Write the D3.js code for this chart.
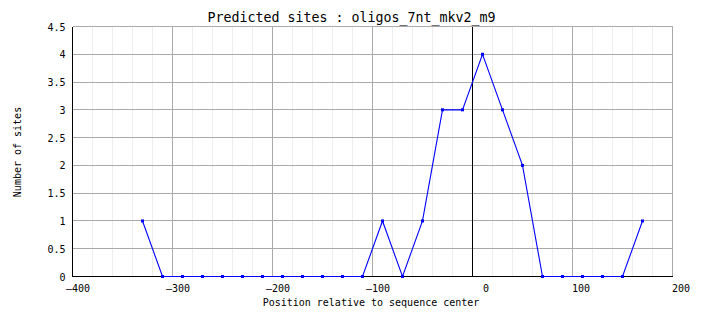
<!DOCTYPE html>
<html>
<head>
<meta charset="utf-8">
<script src="https://cdn.jsdelivr.net/npm/d3@7"></script>
<style>
  body { margin: 0; background: #fff; }
  text { font-family: "DejaVu Sans Mono", monospace; fill: #000; }
  .tick-label { font-size: 10px; }
  .axis-title { font-size: 10px; }
  .title { font-size: 13.3px; }
</style>
</head>
<body>
<div class="chart"></div>
<script>
// positions (relative to sequence center) and site counts
const positions = [-330, -310, -290, -270, -250, -230, -210, -190, -170, -150, -130, -110, -90,
                   -70, -50, -30, -10, 10, 30, 50, 70, 90, 110, 130, 150, 170]
const sites = [1, 0, 0, 0, 0, 0, 0, 0, 0, 0, 0, 0, 1,
               0, 1, 3, 3, 4, 3, 2, 0, 0, 0, 0, 0, 1]
const xTicks = [-400, -300, -200, -100, 0, 100, 200]
const yTicks = [0, 0.5, 1, 1.5, 2, 2.5, 3, 3.5, 4, 4.5]
const title = "Predicted sites : oligos_7nt_mkv2_m9"
const xLabel = "Position relative to sequence center"
const yLabel = "Number of sites"

const width = 704
const height = 328
const margin = {left: 72, right: 32, top: 26, bottom: 52}

const svg = d3.select('.chart').append('svg')
    .attr('width', width)
    .attr('height', height)

const x = d3.scaleLinear()
    .domain([-400, 200])
    .range([margin.left + 0.5, width - margin.right + 0.5])

const y = d3.scaleLinear()
    .domain([0, 4.5])
    .range([height - margin.bottom + 0.5, margin.top + 0.5])

// minor vertical grid every 20
const minor = d3.range(-400, 201, 20).filter(d => d % 100 != 0)
svg.append('g').selectAll('line')
    .data(minor)
    .enter().append('line')
    .attr('x1', d => x(d)).attr('x2', d => x(d))
    .attr('y1', y(0)).attr('y2', y(4.5))
    .attr('stroke', '#eeeeee')
    .attr('shape-rendering', 'crispEdges')

// major grid
svg.append('g').selectAll('line')
    .data(yTicks)
    .enter().append('line')
    .attr('x1', x(-400)).attr('x2', x(200))
    .attr('y1', d => y(d)).attr('y2', d => y(d))
    .attr('stroke', '#aaaaaa')
    .attr('shape-rendering', 'crispEdges')

svg.append('g').selectAll('line')
    .data(xTicks)
    .enter().append('line')
    .attr('x1', d => x(d)).attr('x2', d => x(d))
    .attr('y1', y(0)).attr('y2', y(4.5))
    .attr('stroke', d => d == 0 ? '#000' : '#aaaaaa')
    .attr('shape-rendering', 'crispEdges')

// axes lines
svg.append('line')
    .attr('x1', x(-400)).attr('x2', x(-400))
    .attr('y1', y(0)).attr('y2', y(4.5))
    .attr('stroke', '#000')
    .attr('shape-rendering', 'crispEdges')
svg.append('line')
    .attr('x1', x(-400)).attr('x2', x(200))
    .attr('y1', y(0)).attr('y2', y(0))
    .attr('stroke', '#000')
    .attr('shape-rendering', 'crispEdges')

// tick labels
svg.append('g').selectAll('text')
    .data(yTicks)
    .enter().append('text')
    .attr('class', 'tick-label')
    .attr('x', x(-400) - 7)
    .attr('y', d => y(d) + 4)
    .attr('text-anchor', 'end')
    .text(d => d)

svg.append('g').selectAll('text')
    .data(xTicks)
    .enter().append('text')
    .attr('class', 'tick-label')
    .attr('x', d => x(d))
    .attr('dx', d => d < 0 ? -6.5 : (d == 0 ? 10.5 : -0.5))
    .attr('y', y(0) + 15)
    .attr('text-anchor', 'start')
    .text(d => d.toString().replace('-', '\u2013'))

// series
const data = positions.map((p, i) => ({pos: p, n: sites[i]}))

const line = d3.line()
    .x(d => x(d.pos))
    .y(d => y(d.n))

svg.append('path')
    .datum(data)
    .attr('d', line)
    .attr('fill', 'none')
    .attr('stroke', '#0000ff')
    .attr('stroke-width', 1.1)

svg.append('g').selectAll('rect')
    .data(data)
    .enter().append('rect')
    .attr('x', d => x(d.pos) - 1.5)
    .attr('y', d => y(d.n) - 1.5)
    .attr('width', 3)
    .attr('height', 3)
    .attr('fill', '#0000ff')

// titles
svg.append('text')
    .attr('class', 'title')
    .attr('x', 351.5)
    .attr('y', 22)
    .attr('text-anchor', 'middle')
    .text(title)

svg.append('text')
    .attr('class', 'axis-title')
    .attr('x', 371)
    .attr('y', 306)
    .attr('text-anchor', 'middle')
    .text(xLabel)

svg.append('text')
    .attr('class', 'axis-title')
    .attr('transform', 'translate(21,152) rotate(-90)')
    .attr('text-anchor', 'middle')
    .text(yLabel)
</script>
</body>
</html>
